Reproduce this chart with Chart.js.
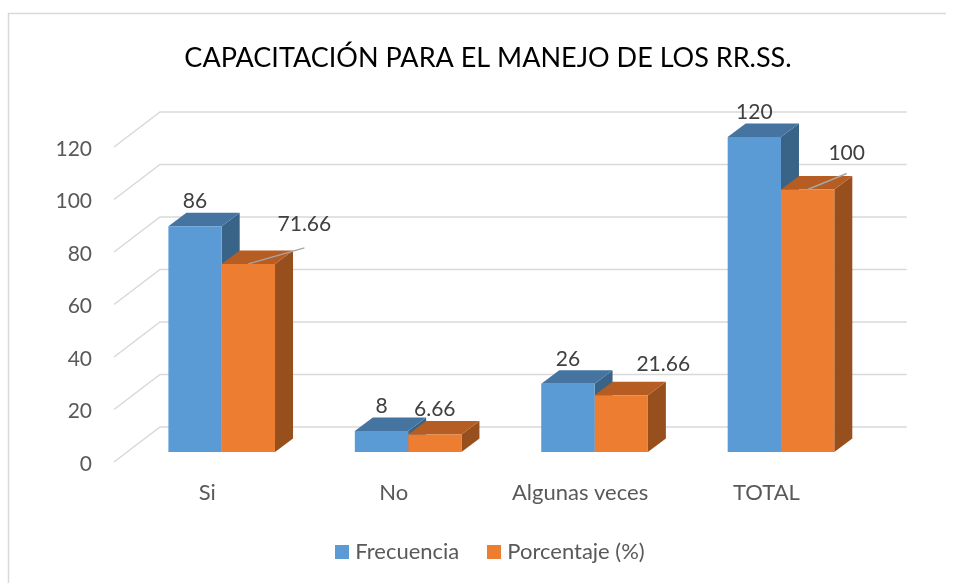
<!DOCTYPE html>
<html><head><meta charset="utf-8">
<style>html,body{margin:0;padding:0;background:#fff}#w{position:relative;width:955px;height:583px}</style>
<script src="https://cdn.jsdelivr.net/npm/chart.js@4"></script>
</head><body><div id="w"><canvas id="c" width="955" height="583"></canvas></div>
<script>
const categories = ["Si", "No", "Algunas veces", "TOTAL"];
const frecuencia = [86, 8, 26, 120];
const porcentaje = [71.66, 6.66, 21.66, 100];
const labelsFrecuencia = ["86", "8", "26", "120"];
const labelsPorcentaje = ["71.66", "6.66", "21.66", "100"];
const tickValues = [0, 20, 40, 60, 80, 100, 120];
const chartTitle = "CAPACITACIÓN PARA EL MANEJO DE LOS RR.SS.";

const FONT = "Lato";
const BAR_SHIFT = {x: 14.5, y: -10};
const BAR_DEPTH = {x: 18, y: -13.5};
const WALL = {x: 46, y: -35};
const seriesColors = ["#5B9BD5", "#ED7D31"];
const faces = [{top: "#44749F", side: "#3A6487"}, {top: "#B55D22", side: "#964F1D"}];
// label offsets from the centre of each bar's front top edge; leader = draw a leader line
const labelOffsets = [
  [{x:0,y:-25},{x:0,y:-25},{x:0,y:-25},{x:0,y:-25}],
  [{x:56,y:-40,leader:{x:56,y:-16}},{x:0,y:-25},{x:42,y:-31},{x:39,y:-36,leader:{x:39,y:-16}}]
];
const texts = [labelsFrecuencia, labelsPorcentaje];

function swatch(color) {
  const s = document.createElement("canvas");
  s.width = 14; s.height = 14;
  const g = s.getContext("2d");
  g.fillStyle = color; g.fillRect(0, 0, 14, 14);
  return s;
}
const swatches = seriesColors.map(swatch);

const threeD = {
  id: "threeD",
  afterLayout(chart) {
    const t = chart.titleBlock, l = chart.legend;
    t.left = 21; t.right = 955;
    l.left = 0; l.right = 985; l.top = 540 - l.height / 2; l.bottom = l.top + l.height;
  },
  beforeDraw(chart) {
    const c = chart.ctx;
    c.save();
    c.strokeStyle = "#D9D9D9"; c.lineWidth = 1.5;
    c.beginPath(); c.moveTo(8.5, 590); c.lineTo(8.5, 13.5); c.lineTo(946, 13.5); c.stroke();
    c.restore();
  },
  beforeDatasetsDraw(chart) {
    const c = chart.ctx, y = chart.scales.y, a = chart.chartArea;
    c.save();
    c.strokeStyle = "#D9D9D9"; c.lineWidth = 1.5;
    tickValues.forEach(v => {
      const p = y.getPixelForValue(v);
      c.beginPath();
      c.moveTo(a.left, p);
      c.lineTo(a.left + WALL.x, p + WALL.y);
      c.lineTo(a.right + WALL.x + 1, p + WALL.y);
      c.stroke();
    });
    [0, 1].forEach(i => chart.getDatasetMeta(i).data.forEach(b => {
      const L = b.x - b.width / 2 + BAR_SHIFT.x, R = b.x + b.width / 2 + BAR_SHIFT.x;
      const T = b.y + BAR_SHIFT.y, B = b.base + BAR_SHIFT.y;
      c.fillStyle = faces[i].side;
      c.beginPath(); c.moveTo(R, T); c.lineTo(R + BAR_DEPTH.x, T + BAR_DEPTH.y);
      c.lineTo(R + BAR_DEPTH.x, B + BAR_DEPTH.y); c.lineTo(R, B); c.closePath(); c.fill();
      c.fillStyle = faces[i].top;
      c.beginPath(); c.moveTo(L, T); c.lineTo(L + BAR_DEPTH.x, T + BAR_DEPTH.y);
      c.lineTo(R + BAR_DEPTH.x, T + BAR_DEPTH.y); c.lineTo(R, T); c.closePath(); c.fill();
    }));
    c.restore();
    c.save();
    c.translate(BAR_SHIFT.x, BAR_SHIFT.y);
  },
  afterDatasetsDraw(chart) {
    const c = chart.ctx;
    c.restore();
    c.save();
    c.font = "21px " + FONT;
    c.fillStyle = "#404040"; c.textAlign = "center"; c.textBaseline = "middle";
    [0, 1].forEach(i => chart.getDatasetMeta(i).data.forEach((b, k) => {
      const o = labelOffsets[i][k];
      const X = b.x + BAR_SHIFT.x, Y = b.y + BAR_SHIFT.y;
      if (o.leader) {
        c.strokeStyle = "#A6A6A6"; c.lineWidth = 1.5;
        c.beginPath(); c.moveTo(X, Y); c.lineTo(X + o.leader.x, Y + o.leader.y); c.stroke();
      }
      c.fillText(texts[i][k], X + o.x, Y + o.y);
    }));
    c.restore();
  }
};

new Chart(document.getElementById("c"), {
  type: "bar",
  data: {
    labels: categories,
    datasets: [
      {label: "Frecuencia", data: frecuencia, backgroundColor: seriesColors[0]},
      {label: "Porcentaje (%)", data: porcentaje, backgroundColor: seriesColors[1]}
    ]
  },
  plugins: [threeD],
  options: {
    responsive: false,
    animation: false,
    devicePixelRatio: 1,
    categoryPercentage: 0.572,
    barPercentage: 1,
    layout: {padding: {left: 0, right: 95.3, top: 0, bottom: 0}},
    plugins: {
      tooltip: {enabled: false},
      title: {display: true, text: chartTitle, color: "#000000",
        font: {family: FONT, size: 27, weight: "normal"},
        padding: {top: 42, bottom: 72.6}},
      legend: {display: true, position: "bottom",
        labels: {boxWidth: 14, boxHeight: 14, pointStyleWidth: 4, usePointStyle: true, padding: 33, color: "#595959",
          font: {family: FONT, size: 22},
          generateLabels(chart) {
            return Chart.defaults.plugins.legend.labels.generateLabels(chart)
              .map((it, i) => Object.assign(it, {pointStyle: swatches[i]}));
          }}}
    },
    scales: {
      x: {
        grid: {display: false, drawTicks: false}, border: {display: false},
        ticks: {color: "#595959", font: {family: FONT, size: 22}, padding: 18, maxRotation: 0, autoSkip: false},
        afterFit(s) { s.height = 121 - s.chart.legend.height; }
      },
      y: {
        min: 0, max: 120,
        grid: {display: false, drawTicks: false}, border: {display: false},
        ticks: {color: "#595959", font: {family: FONT, size: 21}, padding: 22, stepSize: 20, labelOffset: 2},
        afterFit(s) { s.width = 114; }
      }
    }
  }
});
</script></body></html>
